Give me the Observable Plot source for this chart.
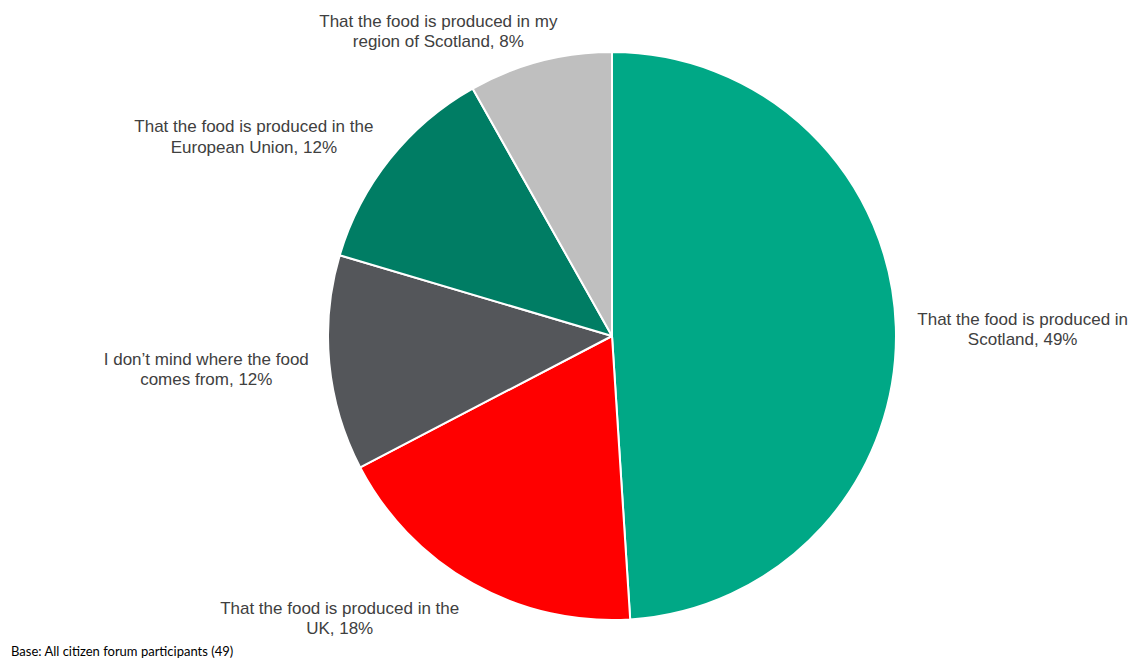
<!DOCTYPE html>
<html>
<head>
<meta charset="utf-8">
<script src="https://cdn.jsdelivr.net/npm/d3@7"></script>
<script src="https://cdn.jsdelivr.net/npm/@observablehq/plot@0.6"></script>
<style>
  html, body { margin: 0; padding: 0; background: #fff; }
  #chart { width: 1131px; height: 661px; position: relative; overflow: hidden; }
  #caption { font-family: Lato, "Open Sans", sans-serif; font-size: 13px; color: #000; line-height: 20px; padding-left: 11px; }
</style>
</head>
<body>
<div id="chart"></div>
<script>
// ---- data ----
const categories = [
  "That the food is produced in\nScotland",
  "That the food is produced in the\nUK",
  "I don\u2019t mind where the food\ncomes from",
  "That the food is produced in the\nEuropean Union",
  "That the food is produced in my\nregion of Scotland"
];
const respondents = [24, 9, 6, 6, 4];      // of 49 participants
const percentLabels = [49, 18, 12, 12, 8]; // as shown (%)
const colors = ["#00A886", "#FF0000", "#54565A", "#007D64", "#BFBFBF"];
const base = "Base: All citizen forum participants (49)";

// ---- layout (label placement, in unit-circle coordinates) ----
const labelRadius = 1.44;
const labelNudge = [[0.005, -0.017], [-0.254, 0.265], [0.003, 0.025], [-0.137, -0.192], [-0.248, -0.316]];

const rows = categories.map((c, i) => ({ category: c, value: respondents[i], pct: percentLabels[i], color: colors[i] }));
const arcs = d3.pie().sort(null).value(d => d.value)(rows);
const labels = arcs.map((a, i) => {
  const mid = (a.startAngle + a.endAngle) / 2;
  return {
    text: `${a.data.category}, ${a.data.pct}%`,
    x: labelRadius * Math.sin(mid) + labelNudge[i][0],
    y: labelRadius * Math.cos(mid) + labelNudge[i][1]
  };
});

function pieMark(index, scales) {
  const cx = scales.x(0), cy = scales.y(0);
  const r = scales.x(1) - scales.x(0);
  const arcGen = d3.arc().innerRadius(0).outerRadius(r);
  const g = d3.create("svg:g").attr("transform", `translate(${cx},${cy})`);
  g.selectAll("path").data(arcs).join("path")
    .attr("d", arcGen)
    .attr("fill", d => d.data.color)
    .attr("stroke", "#fff")
    .attr("stroke-width", 2)
    .attr("stroke-linejoin", "round");
  return g.node();
}

const plot = Plot.plot({
  width: 1131,
  height: 641,
  marginLeft: 328,
  marginRight: 235,
  marginTop: 52,
  marginBottom: 21,
  x: { domain: [-1, 1], axis: null },
  y: { domain: [-1, 1], axis: null },
  style: { background: "#fff", overflow: "visible" },
  marks: [
    pieMark,
    Plot.text(labels, {
      x: "x", y: "y", text: "text",
      fontSize: 17, lineHeight: 1.2,
      fontFamily: "'Liberation Sans', Arial, sans-serif",
      fill: "#404040", textAnchor: "middle"
    })
  ]
});
document.getElementById("chart").appendChild(plot);
const cap = document.createElement("div");
cap.id = "caption";
cap.textContent = base;
document.getElementById("chart").appendChild(cap);
</script>
</body>
</html>
